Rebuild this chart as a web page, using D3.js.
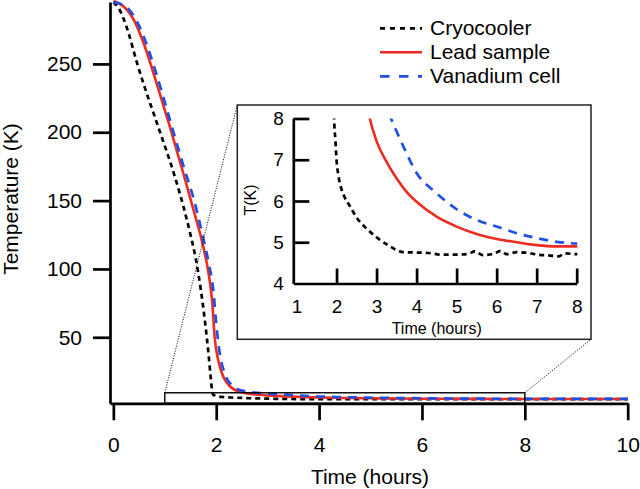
<!DOCTYPE html>
<meta charset="utf-8">
<style>
body { margin: 0; background: #fff; }
svg text { font-family: Arial, "Liberation Sans", sans-serif; fill: #000; }
</style>
<body>
<svg width="640" height="489"></svg>
</body>
<script src="https://d3js.org/d3.v7.min.js"></script>
<script>

// [time (hours), temperature (K)]
var cryocooler = [[0,295],[0.1,291],[0.2,283],[0.3,272],[0.45,252],[0.6,234],[0.8,212],[1.0,190],
  [1.1,179],[1.2,167],[1.36,146],[1.5,125],[1.6,108],[1.7,85],[1.78,62],[1.85,38],[1.89,22],
  [1.92,11],[1.94,8],[1.97,7.5],[2.0,7.0],[2.05,6.6],[2.12,6.3],[2.2,6.1],[2.35,5.85],
  [2.5,5.6],[2.7,5.38],[3.0,5.12],[3.3,4.92],[3.67,4.76],[4.0,4.75],[4.3,4.74],[4.6,4.7],
  [5.0,4.7],[5.3,4.72],[5.45,4.78],[5.65,4.69],[5.9,4.71],[6.1,4.79],[6.25,4.71],[6.5,4.76],
  [6.8,4.74],[7.0,4.7],[7.3,4.68],[7.55,4.66],[7.7,4.73],[8.0,4.71],[9.0,4.72],[10,4.72]];
var leadSample = [[0,296],[0.1,294.5],[0.2,292],[0.4,282],[0.6,264],[0.84,236],[1.1,204],
  [1.36,170],[1.56,143],[1.75,116],[1.85,97],[1.92,77],[1.97,50],[2.04,33],[2.14,21],[2.27,14],
  [2.46,10.2],[2.83,8.0],[3.0,7.45],[3.25,6.95],[3.5,6.55],[3.75,6.22],[4.0,5.98],[4.5,5.62],
  [5.0,5.38],[5.5,5.2],[6.0,5.08],[6.5,5.0],[7.0,4.93],[7.5,4.9],[8.0,4.9],[9.0,4.9],[10,4.9]];
var vanadiumCell = [[0,295],[0.2,293],[0.4,285],[0.6,269],[0.85,241],[1.1,209],[1.35,177],
  [1.6,146],[1.75,122],[1.85,105],[1.95,82],[2.0,60],[2.07,38],[2.17,23],[2.3,15],[2.5,11],
  [3.0,8.8],[3.36,8.0],[3.67,7.32],[4.0,6.68],[4.5,6.19],[5.0,5.8],[5.5,5.54],[6.0,5.38],
  [6.5,5.22],[7.0,5.1],[7.5,5.01],[8.0,4.97],[9.0,4.96],[10,4.96]];

var seriesNames = ["Cryocooler", "Lead sample", "Vanadium cell"];
var mainTicksX = [0, 2, 4, 6, 8, 10];
var mainTicksY = [50, 100, 150, 200, 250];
var insetTicksX = [1, 2, 3, 4, 5, 6, 7, 8];
var insetTicksY = [4, 5, 6, 7, 8];
var zoomTime = [1, 8];
var zoomTemp = [1.7, 9.4];

var series = [cryocooler, leadSample, vanadiumCell];
var styles = [
  {color: "#000", width: 2.7, dash: "5,4", legendDash: "5,5"},
  {color: "#ee2b1f", width: 2.6, dash: null, legendDash: null},
  {color: "#1e50e6", width: 2.7, dash: "9,7", legendDash: "9.5,9.5"}
];

var svg = d3.select("svg");

var x = d3.scaleLinear().domain([-0.065, 10]).range([110, 627.7]),
    y = d3.scaleLinear().domain([1.7, 295.3]).range([403.3, 2]);

function styleAxis(g, size) {
  g.attr("font-size", size).attr("font-family", null);
  g.selectAll("path, line").attr("stroke", "#000").attr("stroke-width", 2.7);
  g.selectAll("text").attr("fill", "#000");
}

// main curves
var line = d3.line().x(function(d) { return x(d[0]); }).y(function(d) { return y(d[1]); })
    .curve(d3.curveMonotoneX);

series.forEach(function(s, i) {
  svg.append("path").datum(s)
    .attr("d", line)
    .attr("fill", "none")
    .attr("stroke", styles[i].color)
    .attr("stroke-width", styles[i].width)
    .attr("stroke-dasharray", styles[i].dash);
});

// main axes
svg.append("g").attr("transform", "translate(0,403.3)")
  .call(d3.axisBottom(x).tickValues(mainTicksX).tickSize(17).tickSizeOuter(0).tickPadding(16.7))
  .call(styleAxis, 21);
svg.append("g").attr("transform", "translate(110,0)")
  .call(d3.axisLeft(y).tickValues(mainTicksY).tickSize(17).tickSizeOuter(0).tickPadding(11))
  .call(styleAxis, 21);

svg.append("text").attr("x", 370).attr("y", 484).attr("text-anchor", "middle")
  .attr("font-size", 21).text("Time (hours)");
svg.append("text").attr("transform", "translate(18,199) rotate(-90)").attr("text-anchor", "middle")
  .attr("font-size", 21).text("Temperature (K)");

// zoom box and connectors
svg.append("rect")
  .attr("x", x(zoomTime[0])).attr("y", y(zoomTemp[1]))
  .attr("width", x(zoomTime[1]) - x(zoomTime[0])).attr("height", y(zoomTemp[0]) - y(zoomTemp[1]))
  .attr("fill", "none").attr("stroke", "#000").attr("stroke-width", 1.4);

var box = {x: 237.3, y: 105, w: 353.7, h: 234.3};
svg.append("line").attr("x1", x(zoomTime[0])).attr("y1", y(zoomTemp[1]))
  .attr("x2", box.x).attr("y2", box.y)
  .attr("stroke", "#000").attr("stroke-width", 1).attr("stroke-dasharray", "1,1.5");
svg.append("line").attr("x1", x(zoomTime[1])).attr("y1", y(zoomTemp[1]))
  .attr("x2", box.x + box.w).attr("y2", box.y + box.h)
  .attr("stroke", "#000").attr("stroke-width", 1).attr("stroke-dasharray", "1,1.5");

// inset
svg.append("rect").attr("x", box.x).attr("y", box.y).attr("width", box.w).attr("height", box.h)
  .attr("fill", "#fff").attr("stroke", "#222").attr("stroke-width", 1.5);

var ix = d3.scaleLinear().domain([0.92, 8]).range([293.3, 576.7]),
    iy = d3.scaleLinear().domain([4, 8]).range([283.5, 118.5]);

svg.append("clipPath").attr("id", "insetClip").append("rect")
  .attr("x", 293.3).attr("y", 118.5).attr("width", 284).attr("height", 165);

var iline = d3.line().x(function(d) { return ix(d[0]); }).y(function(d) { return iy(d[1]); })
    .curve(d3.curveMonotoneX);

var inset = svg.append("g").attr("clip-path", "url(#insetClip)");
series.forEach(function(s, i) {
  inset.append("path").datum(s)
    .attr("d", iline)
    .attr("fill", "none")
    .attr("stroke", styles[i].color)
    .attr("stroke-width", styles[i].width)
    .attr("stroke-dasharray", styles[i].dash);
});

var ixAxis = svg.append("g").attr("transform", "translate(0,283.5)")
  .call(d3.axisBottom(ix).tickValues(insetTicksX).tickFormat(d3.format("d"))
    .tickSize(-15).tickSizeOuter(0).tickPadding(16))
  .call(styleAxis, 19);
ixAxis.selectAll(".tick").filter(function(d) { return d === 1; }).select("line").remove();

var iyAxis = svg.append("g").attr("transform", "translate(293.3,0)")
  .call(d3.axisLeft(iy).tickValues(insetTicksY).tickFormat(d3.format("d"))
    .tickSize(-16).tickSizeOuter(0).tickPadding(9.5))
  .call(styleAxis, 19);
iyAxis.selectAll(".tick").filter(function(d) { return d === 4; }).select("line").remove();

svg.append("text").attr("x", 436.7).attr("y", 334).attr("text-anchor", "middle")
  .attr("font-size", 16).text("Time (hours)");
svg.append("text").attr("transform", "translate(256,200) rotate(-90)").attr("text-anchor", "middle")
  .attr("font-size", 16).text("T(K)");

// legend
var legend = svg.append("g");
seriesNames.forEach(function(name, i) {
  legend.append("line").attr("x1", 380).attr("x2", 422)
    .attr("y1", 28.3 + 24 * i).attr("y2", 28.3 + 24 * i)
    .attr("stroke", styles[i].color).attr("stroke-width", styles[i].width)
    .attr("stroke-dasharray", styles[i].legendDash);
  legend.append("text").attr("x", 430).attr("y", 35 + 24 * i)
    .attr("font-size", 21).text(name);
});

</script>
